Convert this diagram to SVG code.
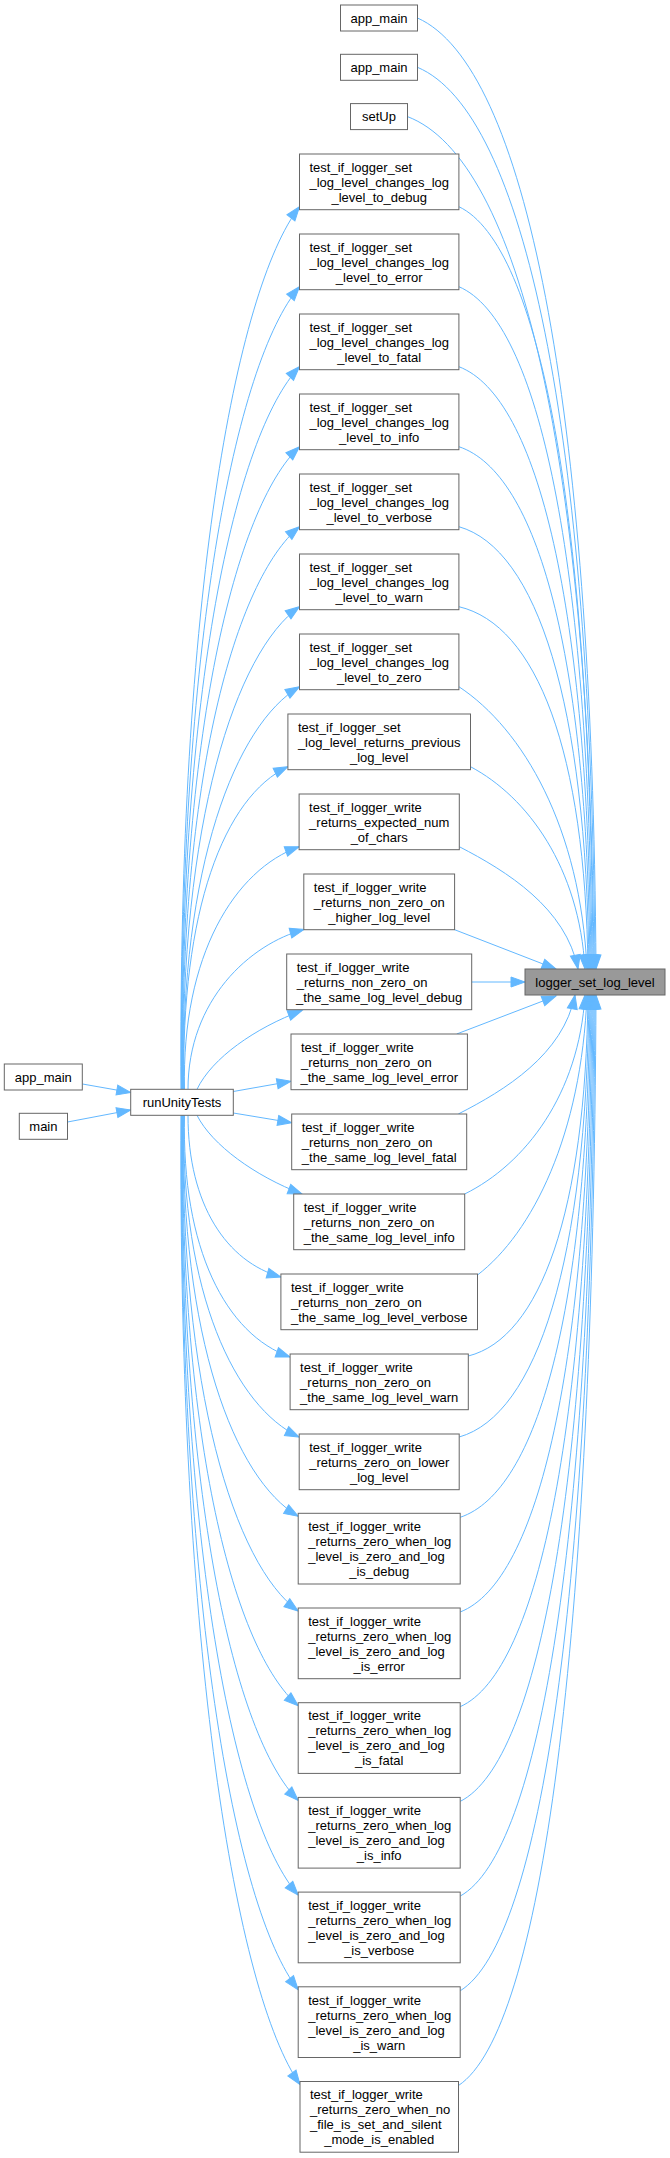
<svg xmlns="http://www.w3.org/2000/svg" width="670" height="2158" viewBox="0 0 670 2158">
<style>
text{font-family:"Liberation Sans",Arial,Helvetica,sans-serif;font-size:13px;fill:#000}
.l{text-anchor:start}
.c{text-anchor:middle}
rect{fill:#fff;stroke:#666;stroke-width:1}
rect.hl{fill:#999}
#edges path{fill:none;stroke:#63b8ff;stroke-width:1;marker-end:url(#a)}
</style>
<defs>
<marker id="a" markerUnits="userSpaceOnUse" markerWidth="16" markerHeight="12" refX="14" refY="5" orient="auto" overflow="visible">
<path d="M0,0 L14,5 L0,10 z" fill="#63b8ff" stroke="#63b8ff" stroke-width="1"/>
</marker>
</defs>
<rect width="670" height="2158" style="fill:#fff;stroke:none"/>
<g id="edges">
<path d="M417.5,18 C524.6,65.6 592.4,398.4 596,969"/>
<path d="M417.5,67.3 C524,112.4 591.5,428 595,969"/>
<path d="M407.5,116.6 C519.4,159.2 590.3,457.6 594,969"/>
<path d="M458.9,206.7 C539.4,244.8 590.3,511.6 593,969"/>
<path d="M458.9,286.7 C538.8,320.8 589.3,559.6 592,969"/>
<path d="M458.9,366.7 C538.2,396.8 588.4,607.6 591,969"/>
<path d="M458.9,446.7 C537.6,472.8 587.4,655.6 590,969"/>
<path d="M458.9,526.7 C537,548.8 586.4,703.6 589,969"/>
<path d="M458.9,606.7 C536.4,624.8 585.4,751.6 588,969"/>
<path d="M458.9,686.7 C523,729 580.6,827.9 587,969"/>
<path d="M470.5,766.7 C527.8,797 579.3,867.9 585,969"/>
<path d="M459.3,846.7 C506.8,871.2 566.1,907.9 578,969"/>
<path d="M454.6,929.7 L556,969"/>
<path d="M471.7,982 L525,982"/>
<path d="M456.7,1034 L556,996"/>
<path d="M458.3,1114 C505,1090.2 563.3,1054.5 575,995"/>
<path d="M464.7,1194 C525,1164.2 579,1094.5 585,995"/>
<path d="M477.5,1275 C532.3,1233 581.5,1135 587,995"/>
<path d="M468.3,1356 C540.1,1338 585.6,1211.6 588,995"/>
<path d="M459.2,1437 C537.1,1414.9 586.4,1260.2 589,995"/>
<path d="M460.2,1517.3 C538.1,1491.2 587.4,1308.4 590,995"/>
<path d="M460.2,1612 C538.7,1581.2 588.4,1365.2 591,995"/>
<path d="M460.2,1706.7 C539.3,1671.1 589.4,1422 592,995"/>
<path d="M460.2,1801.4 C539.9,1761.1 590.3,1478.8 593,995"/>
<path d="M460.2,1896.1 C540.5,1851.1 591.3,1535.7 594,995"/>
<path d="M460.2,1990.8 C541.1,1941 592.3,1592.5 595,995"/>
<path d="M458.5,2085.5 C541,2031 593.3,1649.3 596,995"/>
<path d="M181,1089.3 C178,600.3 235.5,289.7 299.5,206.7"/>
<path d="M181.4,1089.3 C178.4,644.7 235.5,362.1 299.5,286.7"/>
<path d="M181.8,1089.3 C178.8,689 235.5,434.6 299.5,366.7"/>
<path d="M182.2,1089.3 C179.2,733.3 235.5,507.1 299.5,446.7"/>
<path d="M182.6,1089.3 C179.6,777.6 235.5,579.6 299.5,526.7"/>
<path d="M183,1089.3 C180,821.9 235.5,652.1 299.5,606.7"/>
<path d="M183.4,1089.3 C180.4,866.3 235.5,724.5 299.5,686.7"/>
<path d="M183.8,1089.3 C180.8,910.6 223.9,797 287.9,766.7"/>
<path d="M184.5,1089.3 C181.5,954.9 235.1,869.5 299.1,846.7"/>
<path d="M188,1089.3 C188,1000 250,944 304,929.5"/>
<path d="M197,1089.3 C212,1058 255,1028 302,1010.5"/>
<path d="M233.3,1091.5 L291,1081.3"/>
<path d="M233.3,1113 L291.7,1122.7"/>
<path d="M197,1115.3 C212,1145 255,1176 302,1194"/>
<path d="M188,1115.3 C188,1205 227,1262 281,1277"/>
<path d="M184.5,1115.3 C181.5,1249.2 226,1334.3 290,1357"/>
<path d="M183.8,1115.3 C180.8,1293.5 235.2,1406.8 299.2,1437"/>
<path d="M183.4,1115.3 C180.4,1337.5 234.2,1478.6 298.2,1516.3"/>
<path d="M183,1115.3 C180,1389.9 234.2,1564.4 298.2,1611"/>
<path d="M182.6,1115.3 C179.6,1442.4 234.2,1650.2 298.2,1705.7"/>
<path d="M182.2,1115.3 C179.2,1494.8 234.2,1736 298.2,1800.4"/>
<path d="M181.8,1115.3 C178.8,1547.3 234.2,1821.8 298.2,1895.1"/>
<path d="M181.4,1115.3 C178.4,1599.8 234.2,1907.6 298.2,1989.8"/>
<path d="M181,1115.3 C178,1652.2 236,1993.4 300,2084.5"/>
<path d="M82.5,1084 L130.7,1092.5"/>
<path d="M67.5,1122 L130.7,1110"/>
</g>
<g id="logger_set_log_level"><rect class="hl" x="525" y="969" width="140" height="26"/><text class="c" x="595" y="986.7">logger_set_log_level</text></g>
<g id="runUnityTests"><rect x="130.7" y="1089.3" width="102.6" height="26"/><text class="c" x="182" y="1107">runUnityTests</text></g>
<g id="app_main_left"><rect x="4.3" y="1064" width="78" height="26"/><text class="c" x="43.3" y="1081.7">app_main</text></g>
<g id="main"><rect x="19.3" y="1113.3" width="48.2" height="26"/><text class="c" x="43.4" y="1131">main</text></g>
<g id="app_main_1"><rect x="340.5" y="5" width="77" height="26"/><text class="c" x="379" y="22.7">app_main</text></g>
<g id="app_main_2"><rect x="340.5" y="54.3" width="77" height="26"/><text class="c" x="379" y="72">app_main</text></g>
<g id="setUp"><rect x="350.5" y="103.6" width="57" height="26"/><text class="c" x="379" y="121.3">setUp</text></g>
<g id="set_debug"><rect x="299.5" y="154" width="159.4" height="55.7"/><text class="l" x="309.5" y="171.7">test_if_logger_set</text><text class="l" x="309.5" y="186.7">_log_level_changes_log</text><text class="c" x="379.2" y="201.7">_level_to_debug</text></g>
<g id="set_error"><rect x="299.5" y="234" width="159.4" height="55.7"/><text class="l" x="309.5" y="251.7">test_if_logger_set</text><text class="l" x="309.5" y="266.7">_log_level_changes_log</text><text class="c" x="379.2" y="281.7">_level_to_error</text></g>
<g id="set_fatal"><rect x="299.5" y="314" width="159.4" height="55.7"/><text class="l" x="309.5" y="331.7">test_if_logger_set</text><text class="l" x="309.5" y="346.7">_log_level_changes_log</text><text class="c" x="379.2" y="361.7">_level_to_fatal</text></g>
<g id="set_info"><rect x="299.5" y="394" width="159.4" height="55.7"/><text class="l" x="309.5" y="411.7">test_if_logger_set</text><text class="l" x="309.5" y="426.7">_log_level_changes_log</text><text class="c" x="379.2" y="441.7">_level_to_info</text></g>
<g id="set_verbose"><rect x="299.5" y="474" width="159.4" height="55.7"/><text class="l" x="309.5" y="491.7">test_if_logger_set</text><text class="l" x="309.5" y="506.7">_log_level_changes_log</text><text class="c" x="379.2" y="521.7">_level_to_verbose</text></g>
<g id="set_warn"><rect x="299.5" y="554" width="159.4" height="55.7"/><text class="l" x="309.5" y="571.7">test_if_logger_set</text><text class="l" x="309.5" y="586.7">_log_level_changes_log</text><text class="c" x="379.2" y="601.7">_level_to_warn</text></g>
<g id="set_zero"><rect x="299.5" y="634" width="159.4" height="55.7"/><text class="l" x="309.5" y="651.7">test_if_logger_set</text><text class="l" x="309.5" y="666.7">_log_level_changes_log</text><text class="c" x="379.2" y="681.7">_level_to_zero</text></g>
<g id="set_previous"><rect x="287.9" y="714" width="182.6" height="55.7"/><text class="l" x="297.9" y="731.7">test_if_logger_set</text><text class="l" x="297.9" y="746.7">_log_level_returns_previous</text><text class="c" x="379.2" y="761.7">_log_level</text></g>
<g id="write_expected"><rect x="299.1" y="794" width="160.2" height="55.7"/><text class="l" x="309.1" y="811.7">test_if_logger_write</text><text class="l" x="309.1" y="826.7">_returns_expected_num</text><text class="c" x="379.2" y="841.7">_of_chars</text></g>
<g id="write_higher"><rect x="303.8" y="874" width="150.8" height="55.7"/><text class="l" x="313.8" y="891.7">test_if_logger_write</text><text class="l" x="313.8" y="906.7">_returns_non_zero_on</text><text class="c" x="379.2" y="921.7">_higher_log_level</text></g>
<g id="same_debug"><rect x="286.7" y="954" width="185" height="55.7"/><text class="l" x="296.7" y="971.7">test_if_logger_write</text><text class="l" x="296.7" y="986.7">_returns_non_zero_on</text><text class="c" x="379.2" y="1001.7">_the_same_log_level_debug</text></g>
<g id="same_error"><rect x="291" y="1034" width="176.4" height="55.7"/><text class="l" x="301" y="1051.7">test_if_logger_write</text><text class="l" x="301" y="1066.7">_returns_non_zero_on</text><text class="c" x="379.2" y="1081.7">_the_same_log_level_error</text></g>
<g id="same_fatal"><rect x="291.7" y="1114" width="175" height="55.7"/><text class="l" x="301.7" y="1131.7">test_if_logger_write</text><text class="l" x="301.7" y="1146.7">_returns_non_zero_on</text><text class="c" x="379.2" y="1161.7">_the_same_log_level_fatal</text></g>
<g id="same_info"><rect x="293.7" y="1194" width="171" height="55.7"/><text class="l" x="303.7" y="1211.7">test_if_logger_write</text><text class="l" x="303.7" y="1226.7">_returns_non_zero_on</text><text class="c" x="379.2" y="1241.7">_the_same_log_level_info</text></g>
<g id="same_verbose"><rect x="280.9" y="1274" width="196.6" height="55.7"/><text class="l" x="290.9" y="1291.7">test_if_logger_write</text><text class="l" x="290.9" y="1306.7">_returns_non_zero_on</text><text class="c" x="379.2" y="1321.7">_the_same_log_level_verbose</text></g>
<g id="same_warn"><rect x="290.1" y="1354" width="178.2" height="55.7"/><text class="l" x="300.1" y="1371.7">test_if_logger_write</text><text class="l" x="300.1" y="1386.7">_returns_non_zero_on</text><text class="c" x="379.2" y="1401.7">_the_same_log_level_warn</text></g>
<g id="write_lower"><rect x="299.2" y="1434" width="160" height="55.7"/><text class="l" x="309.2" y="1451.7">test_if_logger_write</text><text class="l" x="309.2" y="1466.7">_returns_zero_on_lower</text><text class="c" x="379.2" y="1481.7">_log_level</text></g>
<g id="zero_debug"><rect x="298.2" y="1513.3" width="162" height="70.7"/><text class="l" x="308.2" y="1531">test_if_logger_write</text><text class="l" x="308.2" y="1546">_returns_zero_when_log</text><text class="l" x="308.2" y="1561">_level_is_zero_and_log</text><text class="c" x="379.2" y="1576">_is_debug</text></g>
<g id="zero_error"><rect x="298.2" y="1608" width="162" height="70.7"/><text class="l" x="308.2" y="1625.7">test_if_logger_write</text><text class="l" x="308.2" y="1640.7">_returns_zero_when_log</text><text class="l" x="308.2" y="1655.7">_level_is_zero_and_log</text><text class="c" x="379.2" y="1670.7">_is_error</text></g>
<g id="zero_fatal"><rect x="298.2" y="1702.7" width="162" height="70.7"/><text class="l" x="308.2" y="1720.4">test_if_logger_write</text><text class="l" x="308.2" y="1735.4">_returns_zero_when_log</text><text class="l" x="308.2" y="1750.4">_level_is_zero_and_log</text><text class="c" x="379.2" y="1765.4">_is_fatal</text></g>
<g id="zero_info"><rect x="298.2" y="1797.4" width="162" height="70.7"/><text class="l" x="308.2" y="1815.1">test_if_logger_write</text><text class="l" x="308.2" y="1830.1">_returns_zero_when_log</text><text class="l" x="308.2" y="1845.1">_level_is_zero_and_log</text><text class="c" x="379.2" y="1860.1">_is_info</text></g>
<g id="zero_verbose"><rect x="298.2" y="1892.1" width="162" height="70.7"/><text class="l" x="308.2" y="1909.8">test_if_logger_write</text><text class="l" x="308.2" y="1924.8">_returns_zero_when_log</text><text class="l" x="308.2" y="1939.8">_level_is_zero_and_log</text><text class="c" x="379.2" y="1954.8">_is_verbose</text></g>
<g id="zero_warn"><rect x="298.2" y="1986.8" width="162" height="70.7"/><text class="l" x="308.2" y="2004.5">test_if_logger_write</text><text class="l" x="308.2" y="2019.5">_returns_zero_when_log</text><text class="l" x="308.2" y="2034.5">_level_is_zero_and_log</text><text class="c" x="379.2" y="2049.5">_is_warn</text></g>
<g id="zero_silent"><rect x="300" y="2081.5" width="158.5" height="70.7"/><text class="l" x="310" y="2099.2">test_if_logger_write</text><text class="l" x="310" y="2114.2">_returns_zero_when_no</text><text class="l" x="310" y="2129.2">_file_is_set_and_silent</text><text class="c" x="379.25" y="2144.2">_mode_is_enabled</text></g>
</svg>
